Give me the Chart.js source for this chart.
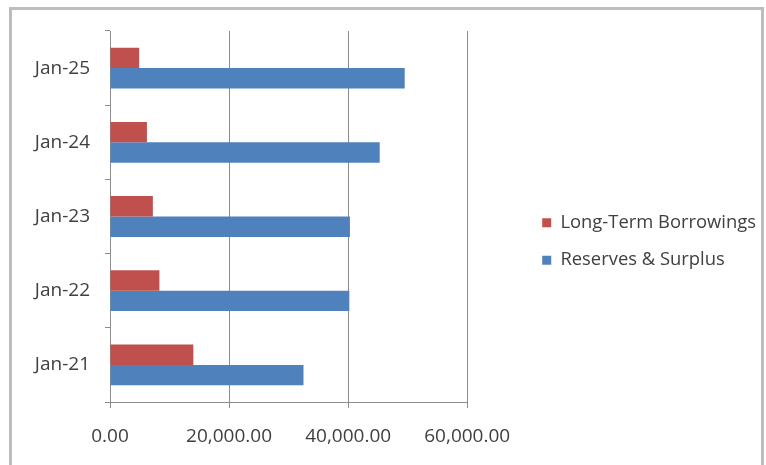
<!DOCTYPE html>
<html>
<head>
<meta charset="utf-8">
<script src="https://cdn.jsdelivr.net/npm/chart.js@4"></script>
<style>
  html, body { margin: 0; padding: 0; background: #fff; }
  #wrap { position: relative; width: 766px; height: 465px; overflow: hidden; }
  #frame { position: absolute; left: 9px; top: 7px; width: 755px; height: 480px; border: 3px solid #bdbdbd; box-sizing: border-box; }
  canvas { position: absolute; left: 0; top: 0; }
</style>
</head>
<body>
<div id="wrap">
  <div id="frame"></div>
  <canvas id="BarChart" width="766" height="465"></canvas>
</div>
<script>
const categories = ["Jan-25", "Jan-24", "Jan-23", "Jan-22", "Jan-21"];
const borrowings = [4900, 6200, 7200, 8300, 14000];
const reserves = [49500, 45300, 40300, 40200, 32500];
const xTicks = [0, 20000, 40000, 60000];

const fmt = v => v.toLocaleString("en-US", { minimumFractionDigits: 2, maximumFractionDigits: 2 });

Chart.defaults.font.family = "'Open Sans', sans-serif";
Chart.defaults.color = "#404040";

const BarChart = document.getElementById("BarChart");
new Chart(BarChart, {
  type: "bar",
  data: {
    labels: categories,
    datasets: [
      {
        label: "Long-Term Borrowings",
        data: borrowings,
        backgroundColor: "#c0504d"
      },
      {
        label: "Reserves & Surplus",
        data: reserves,
        backgroundColor: "#4f81bd"
      }
    ]
  },
  options: {
    indexAxis: "y",
    responsive: false,
    animation: false,
    layout: {
      padding: { top: 31, right: 0, bottom: 13, left: 0 }
    },
    datasets: {
      bar: { categoryPercentage: 0.55, barPercentage: 1.0 }
    },
    plugins: {
      tooltip: { enabled: false },
      legend: {
        position: "right",
        maxWidth: 320,
        labels: {
          font: { size: 18.4 },
          color: "#404040",
          boxWidth: 9,
          boxHeight: 9,
          padding: 19
        }
      }
    },
    scales: {
      x: {
        min: 0,
        max: 60000,
        afterBuildTicks: axis => {
          axis.ticks = xTicks.map(v => ({ value: v }));
        },
        afterFit: axis => {
          axis.height = 50;
        },
        ticks: {
          font: { size: 19 },
          padding: 17,
          callback: v => fmt(v)
        },
        grid: { color: "#8c8c8c", tickLength: 6 },
        border: { color: "#8c8c8c" }
      },
      y: {
        afterFit: axis => {
          axis.width = 110;
        },
        ticks: { font: { size: 19 }, padding: 15 },
        grid: { drawOnChartArea: false, color: "#8c8c8c", tickLength: 5, offset: true },
        border: { color: "#8c8c8c" }
      },
      // empty axis, only keeps the gap between the plot and the legend
      yGap: {
        type: "linear",
        position: "right",
        afterFit: axis => {
          axis.width = 56;
        },
        ticks: { display: false },
        grid: { display: false },
        border: { display: false }
      }
    }
  }
});
</script>
</body>
</html>
